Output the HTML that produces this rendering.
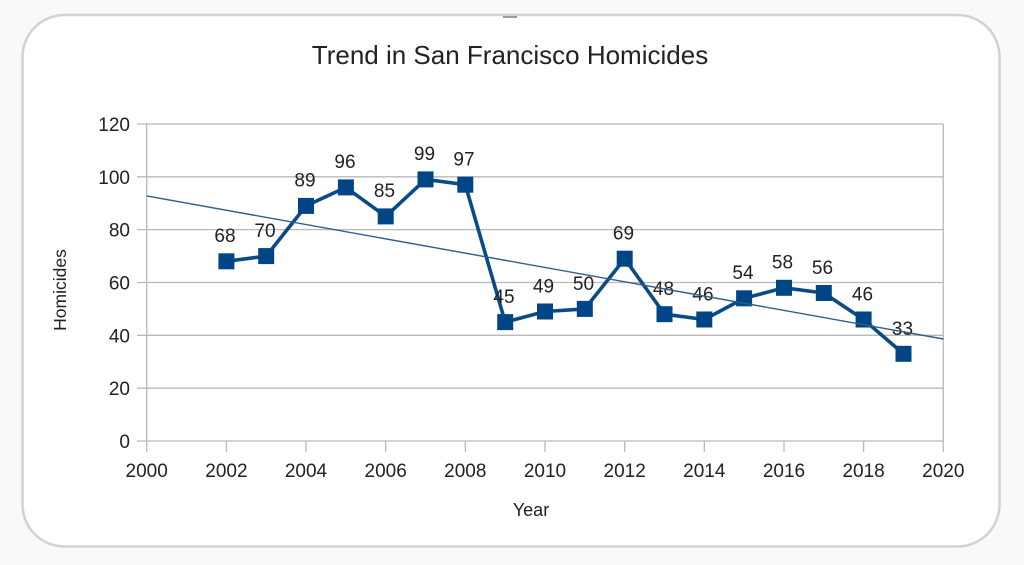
<!DOCTYPE html>
<html>
<head>
<meta charset="utf-8">
<style>
  html,body{margin:0;padding:0;background:#f9f9f9;}
  svg{display:block;}
  text{font-family:"Liberation Sans",Arial,sans-serif;fill:#222;}
</style>
</head>
<body>
<svg width="1024" height="565" viewBox="0 0 1024 565" xmlns="http://www.w3.org/2000/svg">
  <rect x="0" y="0" width="1024" height="565" fill="#f9f9f9"/>
  <rect x="22.5" y="15" width="977" height="531.5" rx="42" ry="42" fill="#ffffff" stroke="#d2d2d2" stroke-width="2.5"/>
  <rect x="503" y="16" width="14" height="2" fill="#6b7a5a" opacity="0.7"/>

  <text x="510" y="64" font-size="26" text-anchor="middle" fill="#222">Trend in San Francisco Homicides</text>

  <!-- grid -->
  <g stroke="#b9b9b9" stroke-width="1.3" fill="none">
    <line x1="137" y1="124" x2="943.3" y2="124"/>
    <line x1="137" y1="176.8" x2="943.3" y2="176.8"/>
    <line x1="137" y1="229.6" x2="943.3" y2="229.6"/>
    <line x1="137" y1="282.5" x2="943.3" y2="282.5"/>
    <line x1="137" y1="335.3" x2="943.3" y2="335.3"/>
    <line x1="137" y1="388.2" x2="943.3" y2="388.2"/>
    <line x1="137" y1="441" x2="943.3" y2="441"/>
    <line x1="146.7" y1="124" x2="146.7" y2="452"/>
    <line x1="943.3" y1="124" x2="943.3" y2="452"/>
    <line x1="226.4" y1="441" x2="226.4" y2="452"/>
    <line x1="306.0" y1="441" x2="306.0" y2="452"/>
    <line x1="385.7" y1="441" x2="385.7" y2="452"/>
    <line x1="465.3" y1="441" x2="465.3" y2="452"/>
    <line x1="545.0" y1="441" x2="545.0" y2="452"/>
    <line x1="624.7" y1="441" x2="624.7" y2="452"/>
    <line x1="704.3" y1="441" x2="704.3" y2="452"/>
    <line x1="784.0" y1="441" x2="784.0" y2="452"/>
    <line x1="863.6" y1="441" x2="863.6" y2="452"/>
  </g>

  <!-- y tick labels -->
  <g font-size="19" text-anchor="end" fill="#222">
    <text x="130" y="131">120</text>
    <text x="130" y="183.8">100</text>
    <text x="130" y="236.6">80</text>
    <text x="130" y="289.5">60</text>
    <text x="130" y="342.3">40</text>
    <text x="130" y="395.2">20</text>
    <text x="130" y="448">0</text>
  </g>

  <!-- x tick labels -->
  <g font-size="19" text-anchor="middle">
    <text x="146.7" y="477">2000</text>
    <text x="226.4" y="477">2002</text>
    <text x="306.0" y="477">2004</text>
    <text x="385.7" y="477">2006</text>
    <text x="465.3" y="477">2008</text>
    <text x="545.0" y="477">2010</text>
    <text x="624.7" y="477">2012</text>
    <text x="704.3" y="477">2014</text>
    <text x="784.0" y="477">2016</text>
    <text x="863.6" y="477">2018</text>
    <text x="943.3" y="477">2020</text>
  </g>

  <text x="531" y="516" font-size="18" text-anchor="middle">Year</text>
  <text x="0" y="0" font-size="17.5" text-anchor="middle" transform="translate(66,290) rotate(-90)">Homicides</text>

  <!-- series line -->
  <polyline fill="none" stroke="#0a4a86" stroke-width="3.6" stroke-linejoin="round"
    points="226.4,261.3 266.2,256.1 306.0,205.9 345.9,187.4 385.7,216.4 425.5,179.4 465.3,184.7 505.2,322.1 545.0,311.5 584.8,308.9 624.7,258.7 664.5,314.2 704.3,319.5 744.1,298.3 784.0,287.8 823.8,293.0 863.6,319.5 903.5,353.8"/>

  <!-- markers -->
  <g fill="#004586">
    <rect x="218.4" y="253.3" width="16" height="16"/>
    <rect x="258.2" y="248.1" width="16" height="16"/>
    <rect x="298.0" y="197.9" width="16" height="16"/>
    <rect x="337.9" y="179.4" width="16" height="16"/>
    <rect x="377.7" y="208.4" width="16" height="16"/>
    <rect x="417.5" y="171.4" width="16" height="16"/>
    <rect x="457.3" y="176.7" width="16" height="16"/>
    <rect x="497.2" y="314.1" width="16" height="16"/>
    <rect x="537.0" y="303.5" width="16" height="16"/>
    <rect x="576.8" y="300.9" width="16" height="16"/>
    <rect x="616.7" y="250.7" width="16" height="16"/>
    <rect x="656.5" y="306.2" width="16" height="16"/>
    <rect x="696.3" y="311.5" width="16" height="16"/>
    <rect x="736.1" y="290.3" width="16" height="16"/>
    <rect x="776.0" y="279.8" width="16" height="16"/>
    <rect x="815.8" y="285.0" width="16" height="16"/>
    <rect x="855.6" y="311.5" width="16" height="16"/>
    <rect x="895.5" y="345.8" width="16" height="16"/>
  </g>

  <!-- data labels -->
  <g font-size="19" text-anchor="middle">
    <text x="225" y="242">68</text>
    <text x="265" y="237">70</text>
    <text x="305" y="186.5">89</text>
    <text x="345" y="168">96</text>
    <text x="384.5" y="197">85</text>
    <text x="424.5" y="160">99</text>
    <text x="464" y="165.5">97</text>
    <text x="504" y="303">45</text>
    <text x="543.5" y="292.5">49</text>
    <text x="583.5" y="290">50</text>
    <text x="623.5" y="239.5">69</text>
    <text x="663.5" y="295">48</text>
    <text x="703" y="300.5">46</text>
    <text x="743" y="279">54</text>
    <text x="782.5" y="268.5">58</text>
    <text x="822.5" y="274">56</text>
    <text x="862.5" y="300.5">46</text>
    <text x="902.5" y="335">33</text>
  </g>

  <!-- trend line -->
  <line x1="146.7" y1="195.9" x2="943.3" y2="339.0" stroke="#2f5f8c" stroke-width="1.4"/>
</svg>
</body>
</html>
